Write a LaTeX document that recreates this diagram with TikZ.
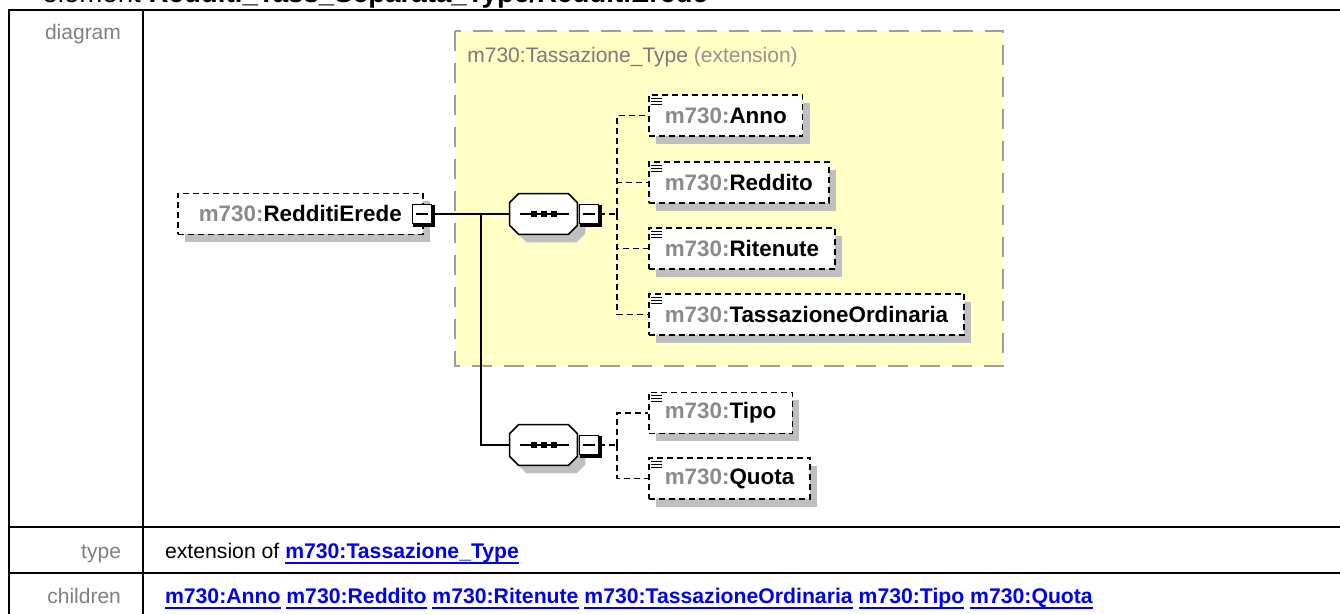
\documentclass[tikz,border=0pt]{standalone}
\usepackage{fontspec}
\setmainfont{Liberation Sans}
\usepackage{xcolor}
\usepackage{tikz}
\usetikzlibrary{positioning,calc,shadows}
\definecolor{tyel}{HTML}{FFFFC6}
\definecolor{pfx}{HTML}{8A8A8A}
\definecolor{lnk}{HTML}{0000F0}
\newsavebox\lkbox
\newcommand\pfx{\textcolor{pfx}{m730:}}
\newcommand\lk[1]{\sbox\lkbox{\color{lnk}\textbf{#1}}\textcolor{lnk}{\rlap{\rule[-2.6pt]{\wd\lkbox}{0.9pt}}\usebox\lkbox}}

\begin{document}
\begin{tikzpicture}[x=0.5pt,y=-0.5pt,
  elem/.style={draw,dash pattern=on 3pt off 2pt,line width=0.75pt,fill=white,anchor=west,
    minimum height=20.5pt,inner xsep=8pt,font=\fontsize{11.2}{13}\selectfont\bfseries,
    drop shadow={shadow xshift=3.5pt,shadow yshift=-4pt,fill=black!25,opacity=1}},
  tog/.style={draw,fill=white,line width=0.8pt,minimum size=9.5pt,inner sep=0pt},
  seqn/.style={minimum width=33.5pt,minimum height=20pt,inner sep=0pt},
  con/.style={line width=1pt},
  cdash/.style={line width=0.75pt,dash pattern=on 3pt off 2pt},
  lbl/.style={anchor=base east,text=black!50,font=\fontsize{10.5}{12}\selectfont},
  cell/.style={anchor=base west,font=\fontsize{10.6}{12}\selectfont}]
  \useasboundingbox (0,0) rectangle (1340,614);
  \clip (0,0) rectangle (1340,614);
  \node[anchor=base west,inner sep=0pt,font=\fontsize{13.85}{16}\selectfont] (ttl) at (42,3)
    {element \textbf{Redditi\_Tass\_Separata\_Type/RedditiErede}};
  \draw[line width=1.25pt] (1360,10)--(9,10)--(9,630) (143,10)--(143,630)
    (9,527)--(1360,527) (9,573)--(1360,573);
  \node[lbl] (ldiag) at (128,40) {diagram};
  \node[lbl] (ltype) at (128,559) {type};
  \node[lbl] (lchild) at (128,604) {children};
  \node[cell] (vtype) at (158,559) {extension of \lk{m730:Tassazione\_Type}};
  \node[cell] (vchild) at (158,604) {\lk{m730:Anno} \lk{m730:Reddito} \lk{m730:Ritenute}
    \lk{m730:TassazioneOrdinaria} \lk{m730:Tipo} \lk{m730:Quota}};
  \draw[fill=tyel,draw=black!38,line width=1.2pt,dash pattern=on 10pt off 6pt] (455,31) rectangle (1003,366);
  \node[anchor=west,inner sep=0pt,font=\fontsize{10.5}{12}\selectfont] (thead) at (467,57)
    {\textcolor{black!52}{m730:Tassazione\_Type} \textcolor{black!42}{(extension)}};
  \node[elem,minimum width=122.5pt] (root) at (177,214) {\pfx RedditiErede};
  \foreach \n/\y/\t in {anno/115.5/Anno,redd/182.5/Reddito,rit/248.5/Ritenute,
    tord/314.5/TassazioneOrdinaria,tipo/413/Tipo,quota/478.5/Quota}
    \node[elem] (\n) at (648,\y) {\pfx \t};
  \foreach \n in {anno,redd,rit,tord,tipo,quota}{\foreach \k in {4,7,10}
    \draw[line width=0.6pt] ($(\n.north west)+(3,\k)$)--++(11,0);}
  \coordinate (j) at (481,214);\coordinate (b1) at (617,214);\coordinate (b2) at (617,445);
  \node[seqn] (s1) at (543.5,214) {};
  \node[seqn] (s2) at (543.5,445) {};
  \def\oct#1{($(#1.north west)+(9,0)$)--($(#1.north east)+(-9,0)$)--($(#1.north east)+(0,9)$)
    --($(#1.south east)+(0,-9)$)--($(#1.south east)+(-9,0)$)--($(#1.south west)+(9,0)$)
    --($(#1.south west)+(0,-9)$)--($(#1.north west)+(0,9)$)--cycle}
  \draw[con] (root.east)--(s1);
  \draw[con] (j) |- (s2);
  \foreach \s in {s1,s2}{\fill[black!25,transform canvas={shift={(4pt,-4pt)}}] \oct{\s};
    \draw[fill=white,line width=0.8pt] \oct{\s};
    \draw[line width=0.8pt] ($(\s.west)+(10,0)$)--($(\s.east)+(-8,0)$);
    \foreach \d in {-10,0,10} \fill ($(\s)+(\d,0)+(-3,-3)$) rectangle ++(6,6);}
  \draw[cdash] (589,214)--(b1);
  \draw[cdash] (589,445)--(b2);
  \foreach \n in {anno,redd,rit,tord} \draw[cdash] (b1) |- (\n.west);
  \foreach \n in {tipo,quota} \draw[cdash] (b2) |- (\n.west);
  \node[tog] (troot) at (422,214) {};
  \node[tog] (t1) at (589,214) {};
  \node[tog] (t2) at (589,445) {};
  \foreach \t in {troot,t1,t2}{\draw[line width=1.5pt] ($(\t.north east)+(1.5,1)$)--($(\t.south east)+(1.5,1.5)$)--($(\t.south west)+(1,1.5)$);
    \draw[line width=0.7pt] ($(\t.west)+(4,0)$)--($(\t.east)+(-4,0)$);}
\end{tikzpicture}
\end{document}
